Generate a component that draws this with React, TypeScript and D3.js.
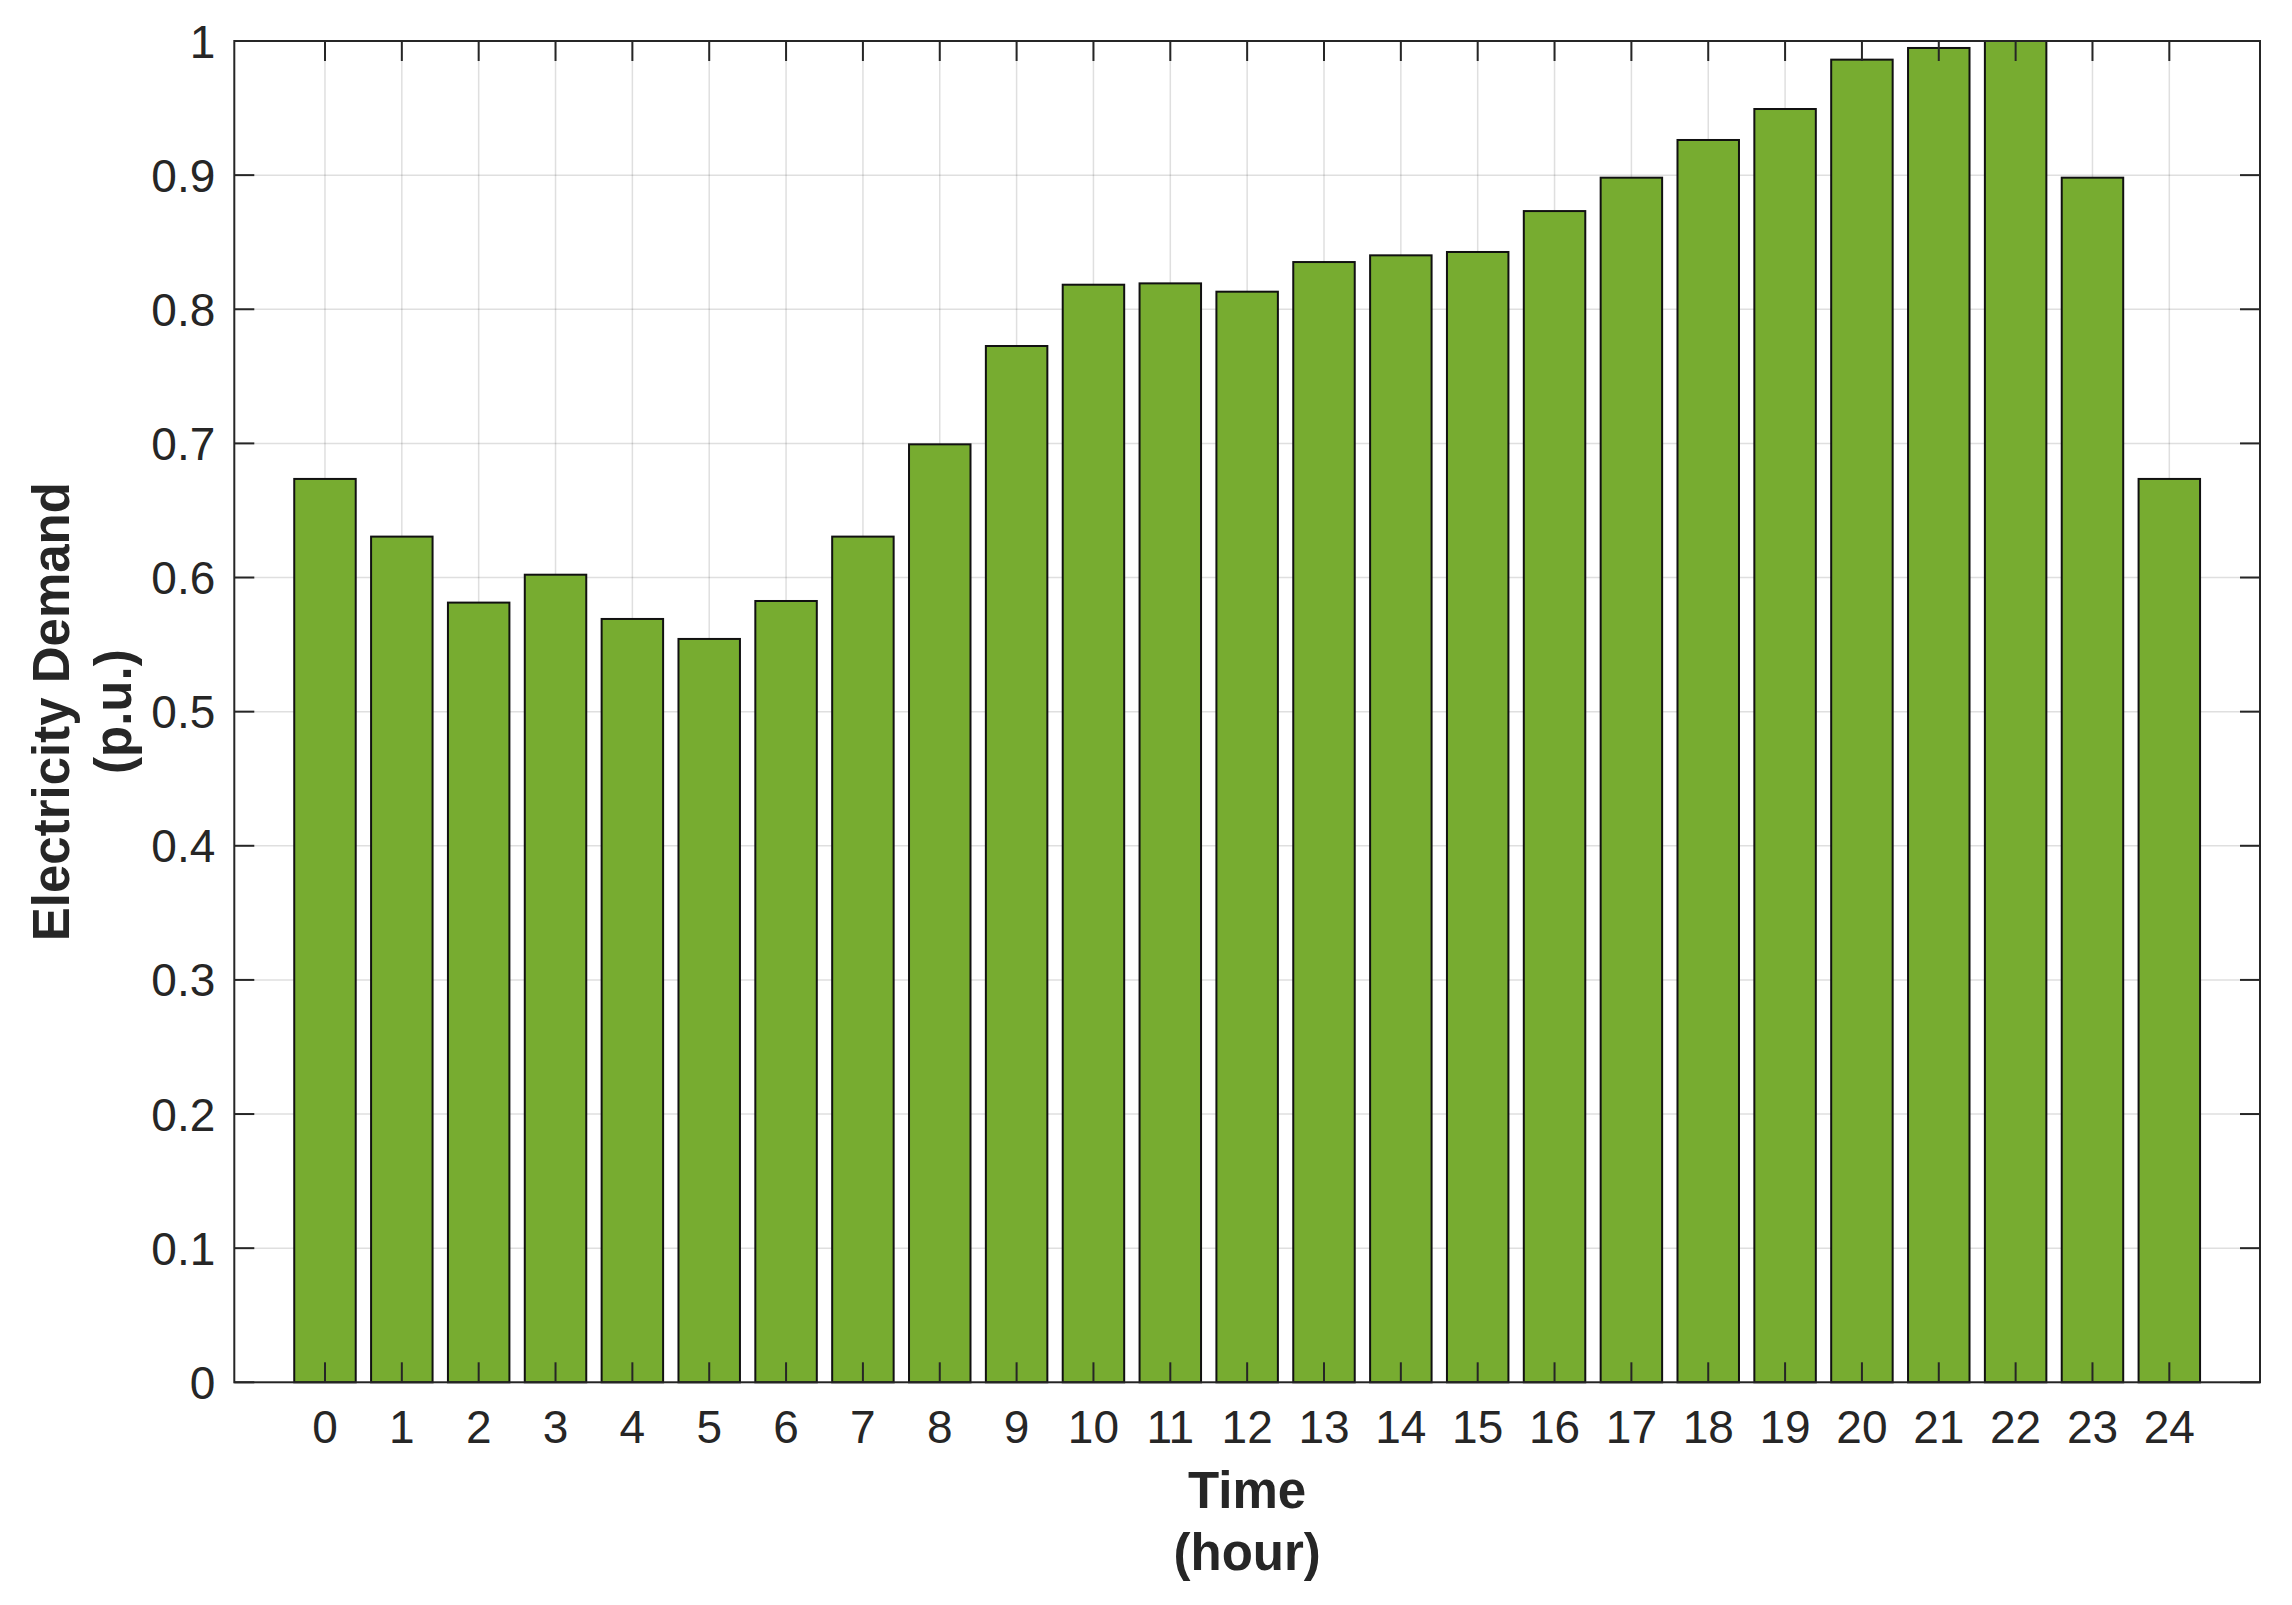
import { useEffect, useRef } from 'react'
import * as d3 from 'd3'

// hourly demand
const hours = d3.range(0, 25)
const demand = [
  0.6735, 0.6305, 0.5813, 0.6021, 0.5691, 0.5542, 0.5825, 0.6305, 0.6993,
  0.7726, 0.8183, 0.8193, 0.8131, 0.8352, 0.8402, 0.8427, 0.8732, 0.8981,
  0.9262, 0.9493, 0.9861, 0.9948, 1.0, 0.8981, 0.6735
]
const yTicks = [0, 0.1, 0.2, 0.3, 0.4, 0.5, 0.6, 0.7, 0.8, 0.9, 1]
const xLabel = ['Time', '(hour)']
const yLabel = ['Electricity Demand', '(p.u.)']

const App = () => {
  const W = 2292
  const H = 1605
  const margin = { top: 41, right: 32, bottom: 222.7, left: 234.3 }
  const width = W - margin.left - margin.right
  const height = H - margin.top - margin.bottom

  const svgRef = useRef(null)

  useEffect(() => {
    const svg = d3.select(svgRef.current)
    svg.selectAll('*').remove()

    const font = '"Liberation Sans", Arial, Helvetica, sans-serif'
    const ink = '#262626'

    const x = d3.scaleLinear().domain([-1.18, 25.18]).range([0, width])
    const y = d3.scaleLinear().domain([0, 1]).range([height, 0])

    const g = svg.append('g').attr('transform', `translate(${margin.left},${margin.top})`)

    // grid
    g.selectAll('.gx').data(hours).enter().append('line')
      .attr('x1', d => x(d)).attr('x2', d => x(d))
      .attr('y1', 0).attr('y2', height)
      .attr('stroke', ink).attr('stroke-opacity', 0.15).attr('stroke-width', 1.5)
    g.selectAll('.gy').data(yTicks).enter().append('line')
      .attr('x1', 0).attr('x2', width)
      .attr('y1', d => y(d)).attr('y2', d => y(d))
      .attr('stroke', ink).attr('stroke-opacity', 0.15).attr('stroke-width', 1.5)

    // bars
    const bw = 0.8
    g.selectAll('.bar').data(demand).enter().append('rect')
      .attr('x', (d, i) => x(hours[i] - bw / 2))
      .attr('width', (d, i) => x(hours[i] + bw / 2) - x(hours[i] - bw / 2))
      .attr('y', d => y(d))
      .attr('height', d => y(0) - y(d))
      .attr('fill', '#77AC30')
      .attr('stroke', '#111')
      .attr('stroke-width', 2)

    // box + inward ticks
    g.append('rect')
      .attr('width', width).attr('height', height)
      .attr('fill', 'none').attr('stroke', ink).attr('stroke-width', 2)

    const tl = 20
    hours.forEach(h => {
      g.append('line').attr('x1', x(h)).attr('x2', x(h)).attr('y1', height).attr('y2', height - tl)
        .attr('stroke', ink).attr('stroke-width', 2)
      g.append('line').attr('x1', x(h)).attr('x2', x(h)).attr('y1', 0).attr('y2', tl)
        .attr('stroke', ink).attr('stroke-width', 2)
      g.append('text')
        .attr('x', x(h)).attr('y', height + 61)
        .attr('text-anchor', 'middle')
        .style('font-family', font).style('font-size', '46px').style('fill', ink)
        .text(`${h}`)
    })
    yTicks.forEach(t => {
      g.append('line').attr('x1', 0).attr('x2', tl).attr('y1', y(t)).attr('y2', y(t))
        .attr('stroke', ink).attr('stroke-width', 2)
      g.append('line').attr('x1', width).attr('x2', width - tl).attr('y1', y(t)).attr('y2', y(t))
        .attr('stroke', ink).attr('stroke-width', 2)
      g.append('text')
        .attr('x', -19).attr('y', y(t)).attr('dy', '0.36em')
        .attr('text-anchor', 'end')
        .style('font-family', font).style('font-size', '46px').style('fill', ink)
        .text(`${t}`)
    })

    // axis labels
    xLabel.forEach((s, i) => {
      g.append('text')
        .attr('x', width / 2).attr('y', height + 126 + i * 62)
        .attr('text-anchor', 'middle')
        .style('font-family', font).style('font-size', '51px').style('font-weight', 'bold').style('fill', ink)
        .text(s)
    })
    yLabel.forEach((s, i) => {
      svg.append('text')
        .attr('transform', `translate(${69 + i * 62},${margin.top + height / 2}) rotate(-90)`)
        .attr('text-anchor', 'middle')
        .style('font-family', font).style('font-size', '51px').style('font-weight', 'bold').style('fill', ink)
        .text(s)
    })
  }, [])

  return (
    <svg ref={svgRef} width={W} height={H}
      style={{ position: 'absolute', left: 0, top: 0, background: '#fff' }}></svg>
  )
}

export default App
